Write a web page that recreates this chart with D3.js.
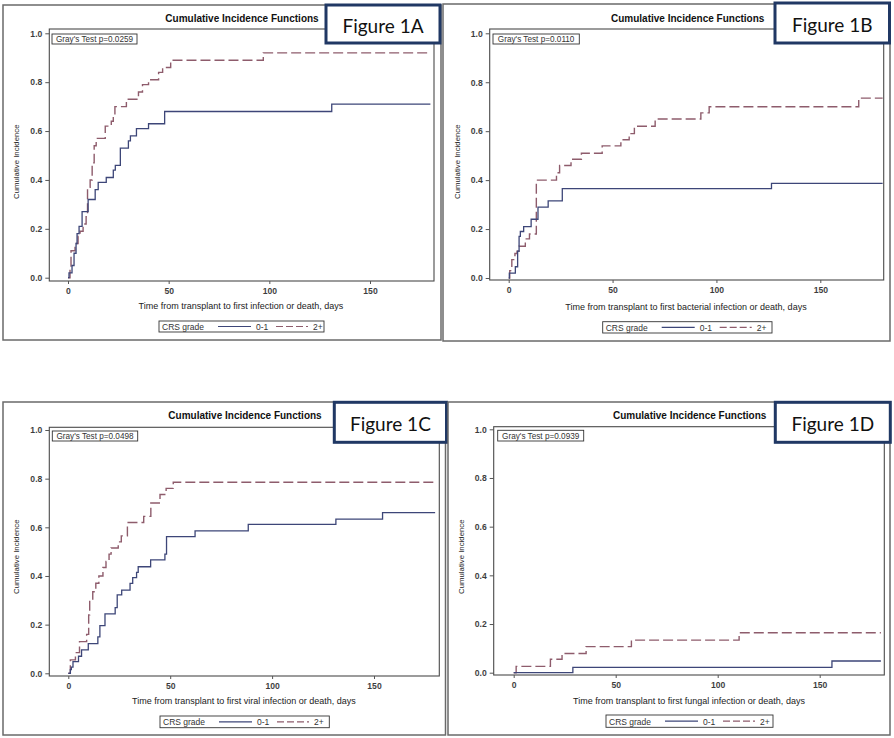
<!DOCTYPE html>
<html>
<head>
<meta charset="utf-8">
<script src="https://cdn.jsdelivr.net/npm/d3@7"></script>
<style>
  html, body { margin: 0; padding: 0; background: #fff; }
  svg { display: block; }
</style>
</head>
<body>
<svg id="chart" width="894" height="738"></svg>
<script>
// ---------------- DATA ----------------
const chartTitle = "Cumulative Incidence Functions";
const yTitle = "Cumulative Incidence";
const legendTitle = "CRS grade";
const groups = ["0-1", "2+"];
const figureLabels = ["Figure 1A", "Figure 1B", "Figure 1C", "Figure 1D"];
const pValues = ["0.0259", "0.0110", "0.0498", "0.0939"];
const xTitles = [
  "Time from transplant to first infection or death, days",
  "Time from transplant to first bacterial infection or death, days",
  "Time from transplant to first viral infection or death, days",
  "Time from transplant to first fungal infection or death, days"
];
const dayTicks = [0, 50, 100, 150];
const incidenceTicks = [0, 0.2, 0.4, 0.6, 0.8, 1.0];
const endDay = 180;

// step functions: [day, cumulative incidence]
const a01 = [[0,0],[0.5,0.02],[2,0.05],[3,0.1],[4,0.14],[4.5,0.18],[5.5,0.21],[7,0.27],[10,0.32],[13.5,0.36],[15,0.39],[19,0.41],[22.5,0.44],[23.5,0.46],[26,0.53],[30,0.56],[31,0.58],[34,0.61],[40,0.63],[48,0.68],[131,0.71]];
const a2p = [[0,0],[1,0.03],[1.5,0.11],[3.5,0.14],[5,0.17],[6,0.19],[7.5,0.22],[9,0.25],[9.7,0.37],[11,0.40],[12,0.47],[13,0.54],[14,0.57],[18.5,0.62],[21.5,0.64],[22.5,0.66],[23.3,0.70],[29,0.73],[35,0.76],[37,0.79],[40,0.81],[45,0.84],[47,0.86],[51,0.89],[97,0.92]];

const b01 = [[0,0],[0.3,0.02],[3.2,0.046],[4.3,0.11],[5,0.17],[5.6,0.19],[7.2,0.21],[10.8,0.24],[14.1,0.29],[19,0.315],[25.8,0.365],[126.5,0.387]];
const b2p = [[0,0],[0.5,0.03],[1.5,0.075],[3,0.10],[4,0.11],[5,0.13],[8,0.16],[10,0.18],[13.3,0.40],[23,0.43],[24.5,0.46],[30,0.485],[35,0.51],[45,0.54],[54,0.565],[58,0.59],[60.5,0.62],[70.5,0.65],[92.5,0.675],[96.5,0.70],[168.5,0.735]];

const c01 = [[0,0],[1,0.015],[1.5,0.025],[2.3,0.048],[5,0.07],[6.5,0.096],[9.8,0.122],[14.5,0.15],[15.5,0.196],[18,0.244],[23,0.27],[24,0.322],[26.2,0.342],[30.3,0.37],[31.6,0.393],[33.5,0.415],[34.3,0.438],[40.4,0.466],[47.4,0.49],[48.2,0.562],[62.2,0.585],[88.3,0.612],[131.3,0.634],[154.2,0.66]];
const c2p = [[0,0],[1,0.055],[3.5,0.085],[5.5,0.13],[9,0.16],[10,0.24],[10.5,0.30],[12,0.335],[13.5,0.37],[15,0.40],[17,0.435],[18.5,0.46],[20,0.49],[21,0.515],[24.5,0.54],[26,0.565],[29,0.62],[37,0.645],[40.5,0.70],[45,0.735],[48,0.76],[51.5,0.785]];

const d01 = [[0,0],[29,0.022],[156,0.048]];
const d2p = [[0,0],[1.2,0.026],[18,0.055],[23.7,0.079],[35.5,0.107],[57.7,0.134],[110.5,0.164]];

const seriesByPanel = [[a01, a2p], [b01, b2p], [c01, c2p], [d01, d2p]];

// ---------------- LAYOUT (pixel geometry, not data) ----------------
const layout = [
  { frame:[3,5,441,340], box:[49.3,29,434,281], x0:68, x150:370, y0:277.7, y1:33.3,
    title:[242,18], fig:[326,5,440,43], gray:[52,34,137,44], xlab:[241,306], ylab:[16,161.7], legend:[159,321,324,332] },
  { frame:[443,4,890,341], box:[489.7,29,883.7,280], x0:508.7, x150:820.3, y0:278, y1:33.3,
    title:[687.7,18], fig:[775,3,889.5,43], gray:[493,34,579.3,44], xlab:[686,307], ylab:[457,161.7], legend:[602.7,321.7,772,333] },
  { frame:[3,402,445.5,735], box:[49.3,427.3,439.3,676], x0:68.3, x150:374, y0:673.3, y1:430,
    title:[245,415], fig:[334.3,402.3,446.5,442.3], gray:[52.3,431,137.7,441], xlab:[244,701], ylab:[16,556.7], legend:[160,716,329.3,727.7] },
  { frame:[448,402,890,735], box:[493.7,426.7,884.3,675], x0:513.7, x150:819.7, y0:672.7, y1:429.3,
    title:[689.7,415], fig:[775.3,402.3,890.3,442.3], gray:[497.7,430.3,583.7,441], xlab:[689,700.7], ylab:[461,556.7], legend:[606,715,773,727.3] }
];

const solidColor = "#3d4678";
const dashColor = "#8e5c6c";
const dashPattern = "10,4";
const font = "'Liberation Sans', Arial, sans-serif";

const svg = d3.select("#chart");

layout.forEach((L, i) => {
  const g = svg.append("g");
  // panel frame
  g.append("rect")
    .attr("x", L.frame[0]).attr("y", L.frame[1])
    .attr("width", L.frame[2] - L.frame[0]).attr("height", L.frame[3] - L.frame[1])
    .attr("fill", "#fff").attr("stroke", "#6a6a6a").attr("stroke-width", 1.5);

  const x = d3.scaleLinear().domain([0, 150]).range([L.x0, L.x150]);
  const y = d3.scaleLinear().domain([0, 1]).range([L.y0, L.y1]);

  // plot box
  g.append("rect")
    .attr("x", L.box[0]).attr("y", L.box[1])
    .attr("width", L.box[2] - L.box[0]).attr("height", L.box[3] - L.box[1])
    .attr("fill", "none").attr("stroke", "#4a4a4a").attr("stroke-width", 1.1);

  // y axis
  const yAxis = g.append("g")
    .attr("transform", `translate(${L.box[0]},0)`)
    .call(d3.axisLeft(y).tickValues(incidenceTicks).tickSize(4).tickPadding(3).tickFormat(d3.format(".1f")));
  yAxis.select(".domain").remove();
  yAxis.selectAll("line").attr("stroke", "#555");
  yAxis.selectAll("text").attr("font-family", font).attr("font-size", 8.6).attr("fill", "#1a1a1a").attr("font-weight", "bold").attr("opacity", 0.85);

  // x axis
  const xAxis = g.append("g")
    .attr("transform", `translate(0,${L.box[3]})`)
    .call(d3.axisBottom(x).tickValues(dayTicks).tickSize(3).tickPadding(4).tickFormat(d3.format("d")));
  xAxis.select(".domain").remove();
  xAxis.selectAll("line").attr("stroke", "#555");
  xAxis.selectAll("text").attr("font-family", font).attr("font-size", 8.6).attr("fill", "#1a1a1a").attr("font-weight", "bold").attr("opacity", 0.85);

  // curves
  const line = d3.line().x(d => x(d[0])).y(d => y(d[1])).curve(d3.curveStepAfter);
  const [s01, s2p] = seriesByPanel[i];
  const ext = s => s.concat([[endDay, s[s.length - 1][1]]]);
  g.append("path").datum(ext(s2p)).attr("d", line)
    .attr("fill", "none").attr("stroke", dashColor).attr("stroke-width", 1.4)
    .attr("stroke-dasharray", dashPattern);
  g.append("path").datum(ext(s01)).attr("d", line)
    .attr("fill", "none").attr("stroke", solidColor).attr("stroke-width", 1.3);

  // title
  g.append("text").attr("x", L.title[0]).attr("y", L.title[1])
    .attr("text-anchor", "middle").attr("dominant-baseline", "central")
    .attr("font-family", font).attr("font-weight", "bold").attr("font-size", 10)
    .attr("fill", "#111").text(chartTitle);

  // Gray's test box
  g.append("rect").attr("x", L.gray[0]).attr("y", L.gray[1])
    .attr("width", L.gray[2] - L.gray[0]).attr("height", L.gray[3] - L.gray[1])
    .attr("fill", "#fff").attr("stroke", "#333").attr("stroke-width", 0.9);
  g.append("text").attr("x", (L.gray[0] + L.gray[2]) / 2).attr("y", (L.gray[1] + L.gray[3]) / 2 + 0.5)
    .attr("text-anchor", "middle").attr("dominant-baseline", "central")
    .attr("font-family", font).attr("font-size", 8.2).attr("fill", "#333")
    .text(`Gray's Test p=${pValues[i]}`);

  // x title
  g.append("text").attr("x", L.xlab[0]).attr("y", L.xlab[1])
    .attr("text-anchor", "middle").attr("dominant-baseline", "central")
    .attr("font-family", font).attr("font-size", 9).attr("fill", "#222")
    .text(xTitles[i]);

  // y title
  g.append("text").attr("transform", `translate(${L.ylab[0]},${L.ylab[1]}) rotate(-90)`)
    .attr("text-anchor", "middle").attr("dominant-baseline", "central")
    .attr("font-family", font).attr("font-size", 7.8).attr("fill", "#222")
    .text(yTitle);

  // legend
  const lx = L.legend[0], ly = L.legend[1], lw = L.legend[2] - L.legend[0], lh = L.legend[3] - L.legend[1];
  const cy = ly + lh / 2;
  const lg = g.append("g");
  lg.append("rect").attr("x", lx).attr("y", ly).attr("width", lw).attr("height", lh)
    .attr("fill", "#fff").attr("stroke", "#333").attr("stroke-width", 0.9);
  lg.append("text").attr("x", lx + 3).attr("y", cy + 0.5).attr("dominant-baseline", "central")
    .attr("font-family", font).attr("font-size", 8.5).attr("fill", "#333").text(legendTitle);
  lg.append("line").attr("x1", lx + 59).attr("x2", lx + 92).attr("y1", cy).attr("y2", cy)
    .attr("stroke", solidColor).attr("stroke-width", 1.2);
  lg.append("text").attr("x", lx + 97).attr("y", cy + 0.5).attr("dominant-baseline", "central")
    .attr("font-family", font).attr("font-size", 8.5).attr("fill", "#333").text(groups[0]);
  lg.append("line").attr("x1", lx + 117).attr("x2", lx + 149).attr("y1", cy).attr("y2", cy)
    .attr("stroke", dashColor).attr("stroke-width", 1.2).attr("stroke-dasharray", "7,3");
  lg.append("text").attr("x", lx + 154).attr("y", cy + 0.5).attr("dominant-baseline", "central")
    .attr("font-family", font).attr("font-size", 8.5).attr("fill", "#333").text(groups[1]);

  // Figure label box
  g.append("rect").attr("x", L.fig[0]).attr("y", L.fig[1])
    .attr("width", L.fig[2] - L.fig[0]).attr("height", L.fig[3] - L.fig[1])
    .attr("fill", "#fff").attr("stroke", "#203864").attr("stroke-width", 3);
  g.append("text").attr("x", (L.fig[0] + L.fig[2]) / 2).attr("y", (L.fig[1] + L.fig[3]) / 2 + 1)
    .attr("text-anchor", "middle").attr("dominant-baseline", "central")
    .attr("font-family", "Lato, 'Open Sans', sans-serif").attr("font-size", 19).attr("fill", "#111")
    .text(figureLabels[i]);
});
</script>
</body>
</html>
